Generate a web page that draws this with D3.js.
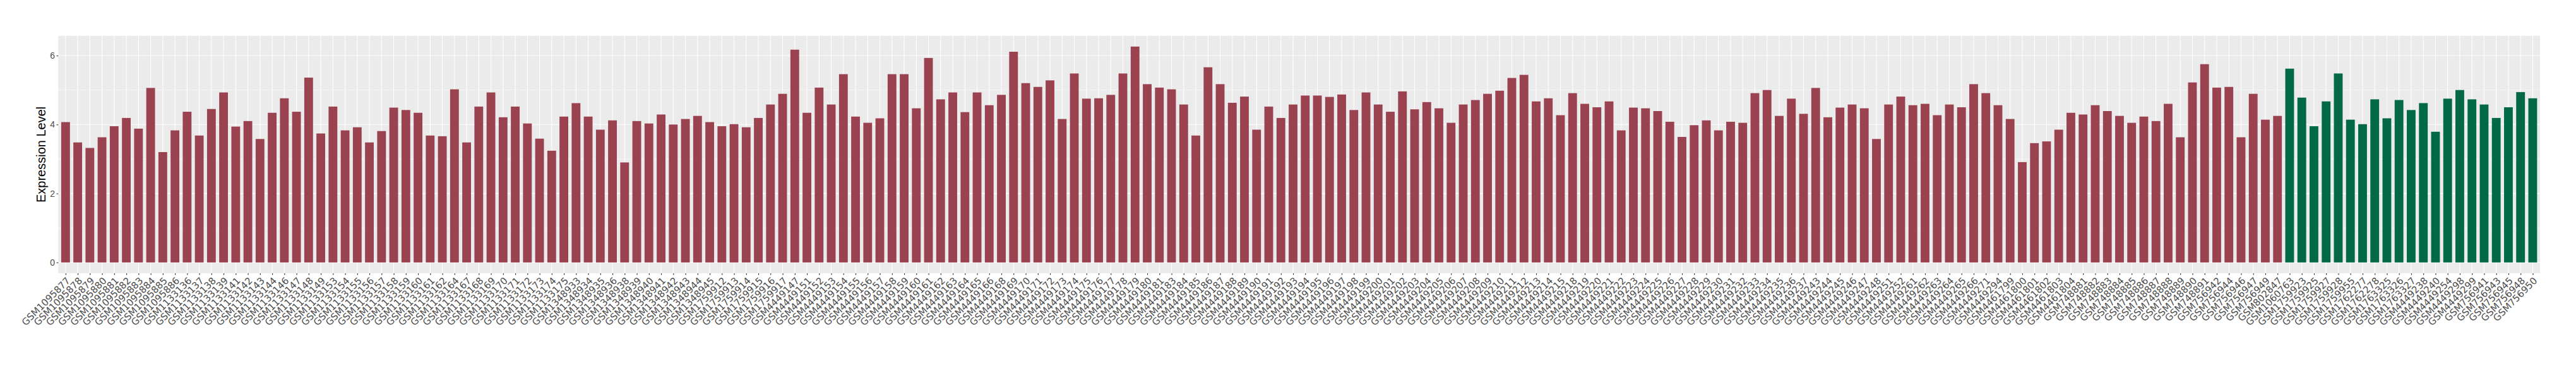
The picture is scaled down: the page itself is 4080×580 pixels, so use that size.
<!DOCTYPE html>
<html>
<head>
<meta charset="utf-8">
<script src="https://cdn.jsdelivr.net/npm/d3@7"></script>
<style>
  html, body { margin: 0; padding: 0; background: #ffffff; }
  svg { display: block; }
</style>
</head>
<body>
<div id="chart"></div>
<script>
// ---- data ----
const redSamples = [
  "GSM1095877","GSM1095878","GSM1095879","GSM1095880","GSM1095881","GSM1095882","GSM1095883","GSM1095884","GSM1095885","GSM1095886",
  "GSM1133136","GSM1133137","GSM1133138","GSM1133139","GSM1133141","GSM1133142","GSM1133143","GSM1133144","GSM1133146","GSM1133147",
  "GSM1133148","GSM1133149","GSM1133153","GSM1133154","GSM1133155","GSM1133156","GSM1133157","GSM1133158","GSM1133159","GSM1133160",
  "GSM1133161","GSM1133162","GSM1133164","GSM1133167","GSM1133168","GSM1133169","GSM1133170","GSM1133171","GSM1133172","GSM1133173",
  "GSM1133174","GSM1133175","GSM1348933","GSM1348934","GSM1348935","GSM1348936","GSM1348938","GSM1348939","GSM1348940","GSM1348941",
  "GSM1348942","GSM1348943","GSM1348944","GSM1348945","GSM1759912","GSM1759913","GSM1759914","GSM1759915","GSM1759916","GSM1759917",
  "GSM4449147","GSM4449151","GSM4449152","GSM4449153","GSM4449154","GSM4449155","GSM4449156","GSM4449157","GSM4449158","GSM4449159",
  "GSM4449160","GSM4449161","GSM4449162","GSM4449163","GSM4449164","GSM4449165","GSM4449166","GSM4449168","GSM4449169","GSM4449170",
  "GSM4449171","GSM4449172","GSM4449173","GSM4449174","GSM4449175","GSM4449176","GSM4449177","GSM4449178","GSM4449179","GSM4449180",
  "GSM4449181","GSM4449183","GSM4449184","GSM4449185","GSM4449186","GSM4449187","GSM4449188","GSM4449189","GSM4449190","GSM4449191",
  "GSM4449192","GSM4449193","GSM4449194","GSM4449195","GSM4449196","GSM4449197","GSM4449198","GSM4449199","GSM4449200","GSM4449201",
  "GSM4449202","GSM4449203","GSM4449204","GSM4449205","GSM4449206","GSM4449207","GSM4449208","GSM4449209","GSM4449210","GSM4449211",
  "GSM4449212","GSM4449213","GSM4449214","GSM4449215","GSM4449218","GSM4449219","GSM4449220","GSM4449221","GSM4449222","GSM4449223",
  "GSM4449224","GSM4449225","GSM4449226","GSM4449227","GSM4449228","GSM4449229","GSM4449230","GSM4449231","GSM4449232","GSM4449233",
  "GSM4449234","GSM4449235","GSM4449236","GSM4449237","GSM4449243","GSM4449244","GSM4449245","GSM4449246","GSM4449247","GSM4449248",
  "GSM4449251","GSM4449252","GSM4449261","GSM4449262","GSM4449263","GSM4449264","GSM4449265","GSM4449266","GSM4449271","GSM4449294",
  "GSM4461799","GSM4461800","GSM4461801","GSM4461802","GSM4461803","GSM4461804","GSM748881","GSM748882","GSM748883","GSM748884",
  "GSM748885","GSM748886","GSM748887","GSM748888","GSM748889","GSM748890","GSM748891","GSM756942","GSM756944","GSM756946",
  "GSM756947","GSM756949","GSM802847"
];
const redValues = [
  4.07,3.48,3.32,3.63,3.95,4.19,3.88,5.06,3.20,3.83,
  4.37,3.68,4.45,4.93,3.94,4.10,3.58,4.34,4.76,4.37,
  5.36,3.74,4.52,3.83,3.92,3.48,3.81,4.49,4.42,4.34,
  3.68,3.66,5.02,3.48,4.52,4.93,4.21,4.52,4.03,3.59,
  3.24,4.23,4.62,4.23,3.85,4.12,2.90,4.10,4.03,4.29,
  4.00,4.16,4.25,4.07,3.95,4.01,3.92,4.19,4.58,4.89,
  6.17,4.34,5.07,4.58,5.46,4.23,4.05,4.18,5.46,5.46,
  4.47,5.93,4.73,4.93,4.36,4.93,4.56,4.86,6.11,5.20,
  5.09,5.28,4.16,5.48,4.75,4.76,4.86,5.48,6.26,5.17,
  5.07,5.02,4.58,3.68,5.66,5.17,4.63,4.81,3.85,4.52,
  4.19,4.58,4.84,4.84,4.80,4.87,4.42,4.93,4.58,4.37,
  4.96,4.44,4.65,4.47,4.05,4.58,4.71,4.89,4.98,5.35,
  5.44,4.67,4.76,4.27,4.91,4.60,4.50,4.67,3.83,4.49,
  4.47,4.39,4.08,3.64,3.98,4.12,3.83,4.08,4.05,4.91,
  5.00,4.25,4.75,4.31,5.06,4.21,4.49,4.58,4.47,3.58,
  4.58,4.81,4.56,4.60,4.27,4.58,4.50,5.17,4.91,4.56,
  4.16,2.91,3.46,3.51,3.85,4.34,4.29,4.56,4.39,4.25,
  4.05,4.23,4.10,4.60,3.63,5.22,5.75,5.07,5.09,3.63,
  4.89,4.14,4.25
];
const greenSamples = [
  "GSM1060763","GSM1759923","GSM1759925","GSM1759927","GSM1759928","GSM1759955","GSM1762277","GSM1762278","GSM1763325","GSM1763326",
  "GSM1763327","GSM4449238","GSM4449240","GSM4449254","GSM4449298","GSM4449299","GSM756941","GSM756943","GSM756945","GSM756948",
  "GSM756950"
];
const greenValues = [
  5.62,4.78,3.95,4.67,5.48,4.14,4.01,4.73,4.18,4.71,
  4.42,4.62,3.79,4.75,5.00,4.73,4.58,4.19,4.50,4.94,
  4.76
];
const yTicks = [0, 2, 4, 6];
const yTitle = "Expression Level";
const groupColors = { red: "#9B4251", green: "#026947" };

// ---- build table ----
const data = redSamples.map((s, i) => ({ sample: s, value: redValues[i], group: "red" }))
  .concat(greenSamples.map((s, i) => ({ sample: s, value: greenValues[i], group: "green" })));

// ---- layout ----
const W = 4080, H = 580;
const panel = { left: 92.3, right: 4023, top: 56.7, bottom: 433 };

const svg = d3.select("#chart").append("svg")
  .attr("width", W).attr("height", H)
  .style("font-family", "'Liberation Sans', Arial, sans-serif");

const x = d3.scalePoint()
  .domain(data.map(d => d.sample))
  .range([panel.left, panel.right])
  .padding(0.6);
const step = x.step();
const barW = step * 0.72;

const maxV = d3.max(data, d => d.value);
const y = d3.scaleLinear()
  .domain([-0.05 * maxV, 1.05 * maxV])
  .range([panel.bottom, panel.top]);

// panel background
svg.append("rect")
  .attr("x", panel.left).attr("y", panel.top)
  .attr("width", panel.right - panel.left).attr("height", panel.bottom - panel.top)
  .attr("fill", "#EBEBEB");

// minor y grid
const minor = d3.range(1, Math.floor(1.05 * maxV), 2);
svg.append("g").selectAll("line").data(minor).join("line")
  .attr("x1", panel.left).attr("x2", panel.right)
  .attr("y1", d => y(d)).attr("y2", d => y(d))
  .attr("stroke", "#ffffff").attr("stroke-width", 0.55);

// major y grid
svg.append("g").selectAll("line").data(yTicks).join("line")
  .attr("x1", panel.left).attr("x2", panel.right)
  .attr("y1", d => y(d)).attr("y2", d => y(d))
  .attr("stroke", "#ffffff").attr("stroke-width", 1.1);

// vertical grid
svg.append("g").selectAll("line").data(x.domain()).join("line")
  .attr("x1", d => x(d)).attr("x2", d => x(d))
  .attr("y1", panel.top).attr("y2", panel.bottom)
  .attr("stroke", "#ffffff").attr("stroke-width", 1.1);

// bars
svg.append("g").selectAll("rect").data(data).join("rect")
  .attr("x", d => x(d.sample) - barW / 2)
  .attr("width", barW)
  .attr("y", d => y(d.value))
  .attr("height", d => y(0) - y(d.value))
  .attr("fill", d => groupColors[d.group]);

// y axis
const yAxis = d3.axisLeft(y).tickValues(yTicks).tickSize(2.7).tickPadding(2.5).tickFormat(d3.format("d"));
const gy = svg.append("g").attr("transform", `translate(${panel.left},0)`).call(yAxis);
gy.select(".domain").remove();
gy.selectAll(".tick line").attr("stroke", "#333333").attr("stroke-width", 1.1);
gy.selectAll(".tick text").attr("fill", "#4D4D4D")
  .style("font-size", "14px").style("font-family", "'Liberation Sans', Arial, sans-serif");

// x axis
const xAxis = d3.axisBottom(x).tickSize(2.7).tickPadding(0);
const gx = svg.append("g").attr("transform", `translate(0,${panel.bottom})`).call(xAxis);
gx.select(".domain").remove();
gx.selectAll(".tick line").attr("stroke", "#333333").attr("stroke-width", 1.1);
gx.selectAll(".tick text")
  .attr("fill", "#4D4D4D")
  .style("font-size", "15px")
  .style("font-family", "'DejaVu Sans', sans-serif")
  .attr("text-anchor", "end")
  .attr("y", 0).attr("dy", 0)
  .attr("transform", "translate(0,5) rotate(-45)")
  .attr("dy", "0.72em");

// y title
svg.append("text")
  .attr("transform", `translate(72,${(panel.top + panel.bottom) / 2}) rotate(-90)`)
  .attr("text-anchor", "middle")
  .attr("fill", "#000000")
  .style("font-size", "20px")
  .text(yTitle);
</script>
</body>
</html>
